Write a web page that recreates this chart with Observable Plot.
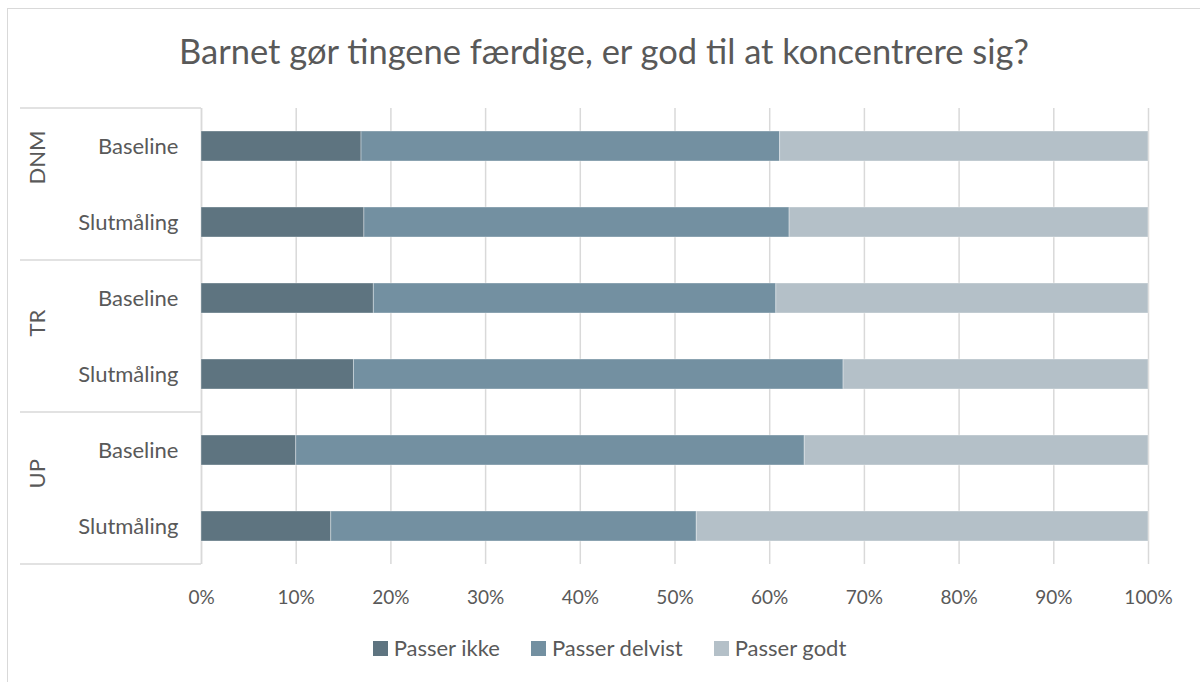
<!DOCTYPE html>
<html>
<head>
<meta charset="utf-8">
<script src="https://cdn.jsdelivr.net/npm/d3@7"></script>
<script src="https://cdn.jsdelivr.net/npm/@observablehq/plot@0.6"></script>
<style>
  html, body { margin: 0; padding: 0; background: #fff; }
  #wrap { position: relative; width: 1200px; height: 682px; overflow: hidden; font-family: Lato, "Open Sans", sans-serif; color: #595959; }
  #border { position: absolute; left: 7px; top: 8px; width: 1300px; height: 800px; border: 1.5px solid #d9d9d9; box-sizing: border-box; }
  #title { position: absolute; left: 0; top: 30px; width: 1200px; text-align: center; font-size: 34.5px; line-height: 42px; color: #595959; padding-left: 8px; box-sizing: border-box; }
  #chart { position: absolute; left: 0; top: 0; }
  #legend { position: absolute; left: 0; top: 635px; width: 1200px; display: flex; justify-content: center; gap: 31px; font-size: 22px; line-height: 26px; padding-left: 19px; box-sizing: border-box; }
  .item { display: flex; align-items: center; gap: 6px; }
  .sw { width: 15px; height: 15px; display: inline-block; }
</style>
</head>
<body>
<div id="wrap">
  <div id="border"></div>
  <div id="title">Barnet gør tingene færdige, er god til at koncentrere sig?</div>
  <div id="chart"></div>
  <div id="legend"></div>
</div>
<script>
const groups = ["DNM", "DNM", "TR", "TR", "UP", "UP"];
const rows = ["Baseline", "Slutmåling", "Baseline", "Slutmåling", "Baseline", "Slutmåling"];
const seriesNames = ["Passer ikke", "Passer delvist", "Passer godt"];
const passerIkke    = [16.9, 17.2, 18.2, 16.1, 10.0, 13.7];
const passerDelvist = [44.2, 44.9, 42.5, 51.7, 53.7, 38.6];
const passerGodt    = [38.9, 37.9, 39.3, 32.2, 36.3, 47.7];
const groupNames = ["DNM", "TR", "UP"];
const rowNames = ["Baseline", "Slutmåling"];
const xTicks = [0, 0.1, 0.2, 0.3, 0.4, 0.5, 0.6, 0.7, 0.8, 0.9, 1];
const colors = ["#5e7480", "#7390a1", "#b4c0c8"];

const seriesValues = [passerIkke, passerDelvist, passerGodt];
const data = [];
groups.forEach((g, i) => {
  seriesNames.forEach((s, j) => {
    data.push({group: g, row: rows[i], series: s, value: seriesValues[j][i] / 100});
  });
});

const plot = Plot.plot({
  width: 1200,
  height: 682,
  marginTop: 107,
  marginBottom: 117,
  marginLeft: 201,
  marginRight: 52,
  style: {fontFamily: "Lato, 'Open Sans', sans-serif", fontSize: "19px", color: "#595959", background: "transparent"},
  fy: {domain: groupNames, padding: 0, axis: null},
  y: {domain: rowNames, paddingInner: 0.6, paddingOuter: 0.3, axis: null},
  x: {domain: [0, 1], axis: null},
  color: {domain: seriesNames, range: colors},
  marks: [
    Plot.gridX(xTicks, {stroke: "#d9d9d9", strokeOpacity: 1, strokeWidth: 1.5}),
    Plot.ruleX([0], {stroke: "#d9d9d9", strokeWidth: 1.5}),
    Plot.barX(data, Plot.stackX({
      fy: "group", y: "row", x: "value", fill: "series",
      order: seriesNames, stroke: "#ffffff", strokeOpacity: 0.35, strokeWidth: 1
    })),
    Plot.axisY({anchor: "left", label: null, tickSize: 0, tickPadding: 23, fontSize: 22, fill: "#595959"}),
    Plot.axisX({anchor: "bottom", label: null, ticks: xTicks, tickFormat: d3.format(".0%"), tickSize: 0, tickPadding: 26, fontSize: 19, fill: "#595959"}),
    Plot.text(groupNames, {fy: d => d, text: d => d, frameAnchor: "left", dx: -164, rotate: -90, fontSize: 22, fill: "#595959"})
  ]
});
document.getElementById("chart").appendChild(plot);

// group separator lines on the category axis, positioned from the fy scale
const fy = plot.scale("fy");
const svg = d3.select(plot);
const xLeft = 20, xRight = 201;
const ys = groupNames.map(g => fy.apply(g));
ys.push(fy.apply(groupNames[groupNames.length - 1]) + fy.bandwidth);
svg.append("g").selectAll("line").data(ys).join("line")
  .attr("x1", xLeft).attr("x2", xRight)
  .attr("y1", d => d).attr("y2", d => d)
  .attr("stroke", "#d9d9d9").attr("stroke-width", 1.5);

// legend
const legend = d3.select("#legend");
seriesNames.forEach((s, i) => {
  const it = legend.append("div").attr("class", "item");
  it.append("span").attr("class", "sw").style("background", colors[i]);
  it.append("span").text(s);
});
</script>
</body>
</html>
